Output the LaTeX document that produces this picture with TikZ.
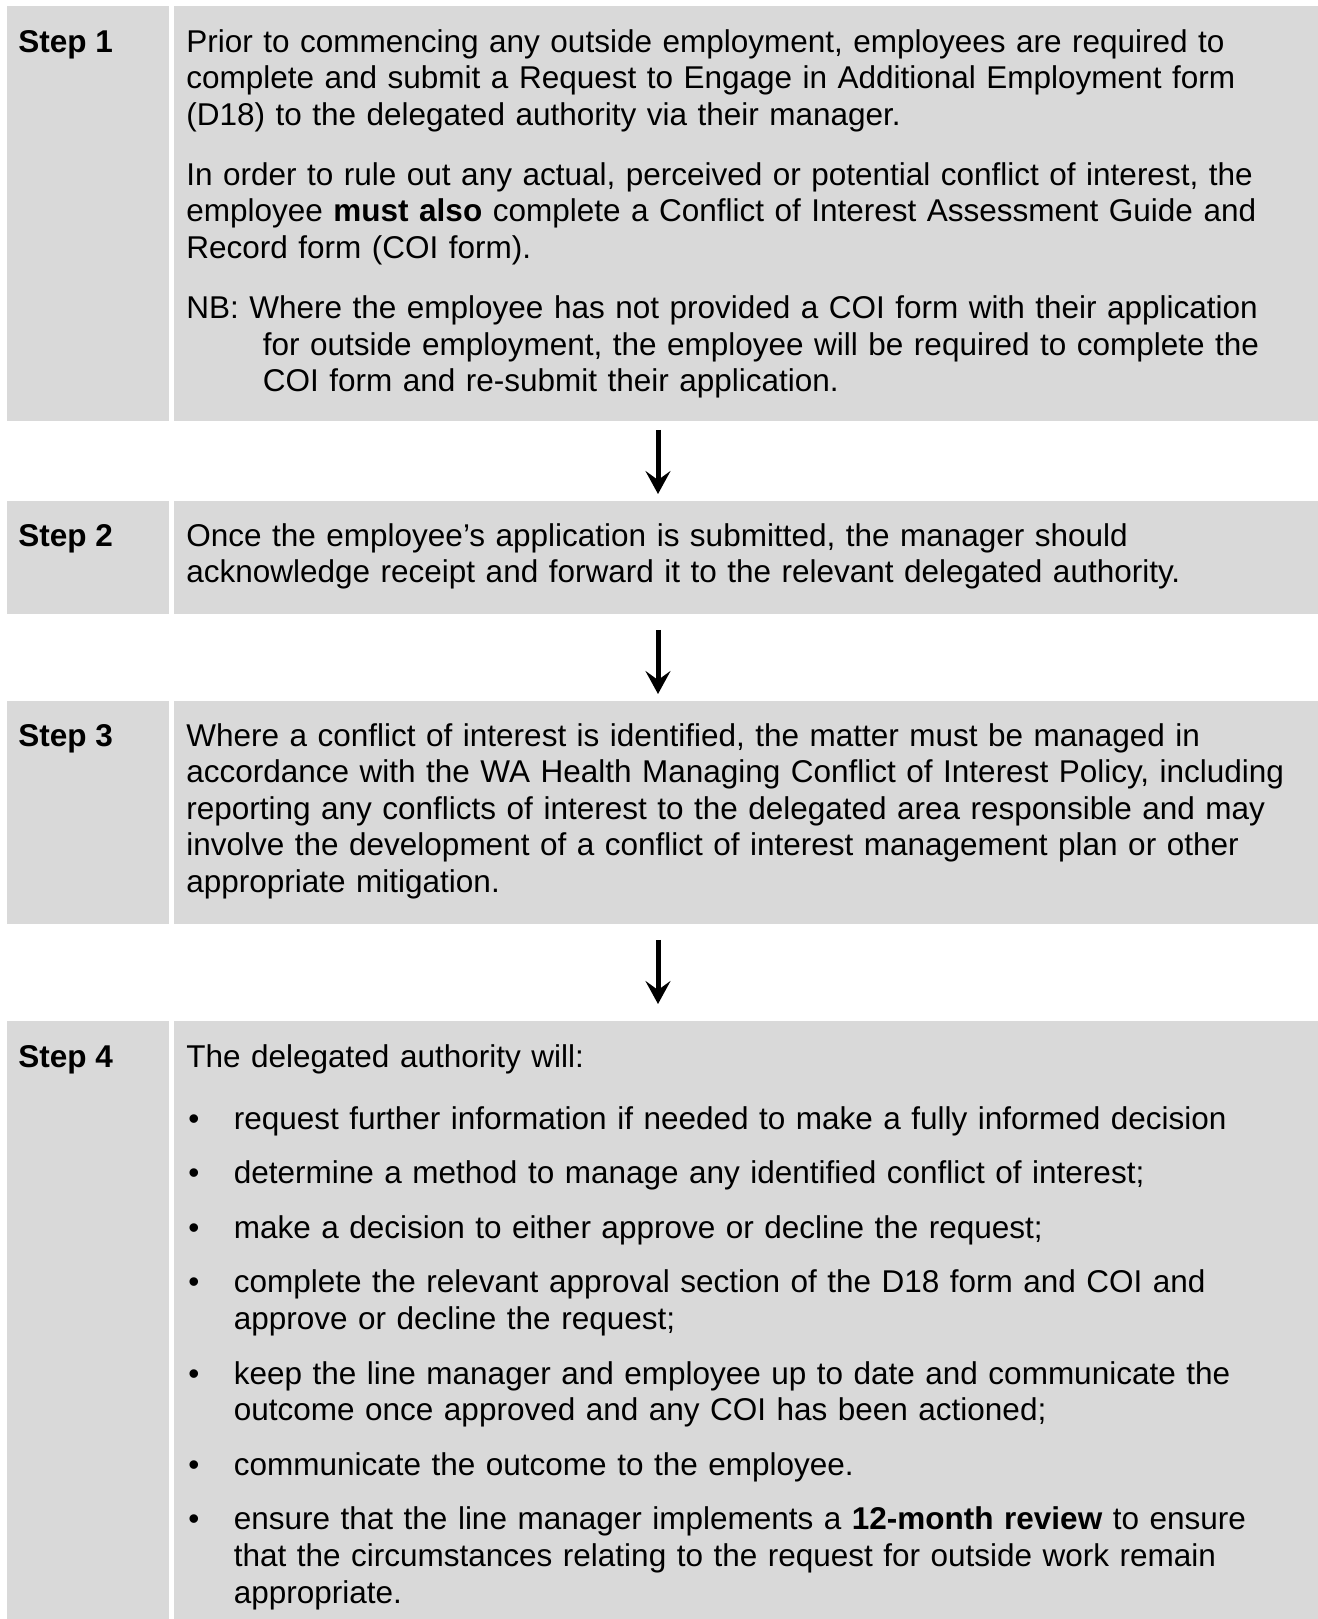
\documentclass[tikz,border=0pt]{standalone}
\usepackage{fontspec}
\setmainfont{Liberation Sans}
\usepackage{xcolor}
\usepackage{tikz}
\usetikzlibrary{arrows.meta,positioning}
\definecolor{boxgray}{HTML}{D9D9D9}
\tikzset{
  labbox/.style    = {anchor=north west, fill=boxgray, draw=none, inner sep=0pt,
                      minimum width=81pt},
  bodybox/.style   = {anchor=north west, fill=boxgray, draw=none, inner sep=0pt,
                      minimum width=572pt},
  steplab/.style   = {anchor=base west, inner sep=0pt,
                      font=\fontsize{15.75pt}{18.3pt}\selectfont\bfseries},
  bodytext/.style  = {anchor=base west, inner sep=0pt, text width=565pt, align=left,
                      font=\fontsize{15.75pt}{18.3pt}\selectfont},
  flowarrow/.style = {-{Stealth[length=11.5pt,width=12.5pt,inset=4.5pt]},
                      line width=2.5pt, black},
}
\newcommand{\itembul}{\makebox[23.75pt][l]{\hspace{1pt}\textbullet}}
\newcommand{\itemind}{\hspace*{23.75pt}}

\begin{document}
\begin{tikzpicture}[x=0.5pt,y=-0.5pt]
  \useasboundingbox (0,0) rectangle (1318,1619);
  % boxes
  \node[labbox,  minimum height=207.5pt] (s1lab)  at (7,6) {};
  \node[bodybox, minimum height=207.5pt] (s1body) at (174,6) {};
  \node[labbox,  minimum height=56.5pt]  (s2lab)  at (7,501) {};
  \node[bodybox, minimum height=56.5pt]  (s2body) at (174,501) {};
  \node[labbox,  minimum height=111.5pt] (s3lab)  at (7,701) {};
  \node[bodybox, minimum height=111.5pt] (s3body) at (174,701) {};
  \node[labbox,  minimum height=299pt]   (s4lab)  at (7,1021) {};
  \node[bodybox, minimum height=299pt]   (s4body) at (174,1021) {};
  % labels
  \node[steplab] (l1) at (18,52)   {Step 1};
  \node[steplab] (l2) at (18,546)  {Step 2};
  \node[steplab] (l3) at (18,746)  {Step 3};
  \node[steplab] (l4) at (18,1067) {Step 4};
  % texts
  \node[bodytext] (t1) at (186,52) {Prior to commencing any outside employment, employees are required to\\
    complete and submit a Request to Engage in Additional Employment form\\
    (D18) to the delegated authority via their manager.\\[11.7pt]
    In order to rule out any actual, perceived or potential conflict of interest, the\\
    employee \textbf{must also} complete a Conflict of Interest Assessment Guide and\\
    Record form (COI form).\\[11.7pt]
    NB: Where the employee has not provided a COI form with their application\\
    \hspace*{38.2pt}for outside employment, the employee will be required to complete the\\
    \hspace*{38.2pt}COI form and re-submit their application.};
  \node[bodytext] (t2) at (186,546) {Once the employee’s application is submitted, the manager should\\
    acknowledge receipt and forward it to the relevant delegated authority.};
  \node[bodytext] (t3) at (186,746) {Where a conflict of interest is identified, the matter must be managed in\\
    accordance with the WA Health Managing Conflict of Interest Policy, including\\
    reporting any conflicts of interest to the delegated area responsible and may\\
    involve the development of a conflict of interest management plan or other\\
    appropriate mitigation.};
  \node[bodytext] (t4) at (186,1067) {The delegated authority will:\\[12.7pt]
    \itembul request further information if needed to make a fully informed decision\\[9pt]
    \itembul determine a method to manage any identified conflict of interest;\\[9pt]
    \itembul make a decision to either approve or decline the request;\\[9pt]
    \itembul complete the relevant approval section of the D18 form and COI and\\
    \itemind approve or decline the request;\\[9pt]
    \itembul keep the line manager and employee up to date and communicate the\\
    \itemind outcome once approved and any COI has been actioned;\\[9pt]
    \itembul communicate the outcome to the employee.\\[9pt]
    \itembul ensure that the line manager implements a \textbf{12-month review} to ensure\\
    \itemind that the circumstances relating to the request for outside work remain\\
    \itemind appropriate.};
  % arrows
  \coordinate (axis) at (658,0);
  \draw[flowarrow, shorten <=4pt, shorten >=3.5pt] (s1body.south -| axis) -- (s2body.north -| axis);
  \draw[flowarrow, shorten <=7.5pt, shorten >=3.5pt] (s2body.south -| axis) -- (s3body.north -| axis);
  \draw[flowarrow, shorten <=7.5pt, shorten >=8.5pt] (s3body.south -| axis) -- (s4body.north -| axis);
\end{tikzpicture}
\end{document}
